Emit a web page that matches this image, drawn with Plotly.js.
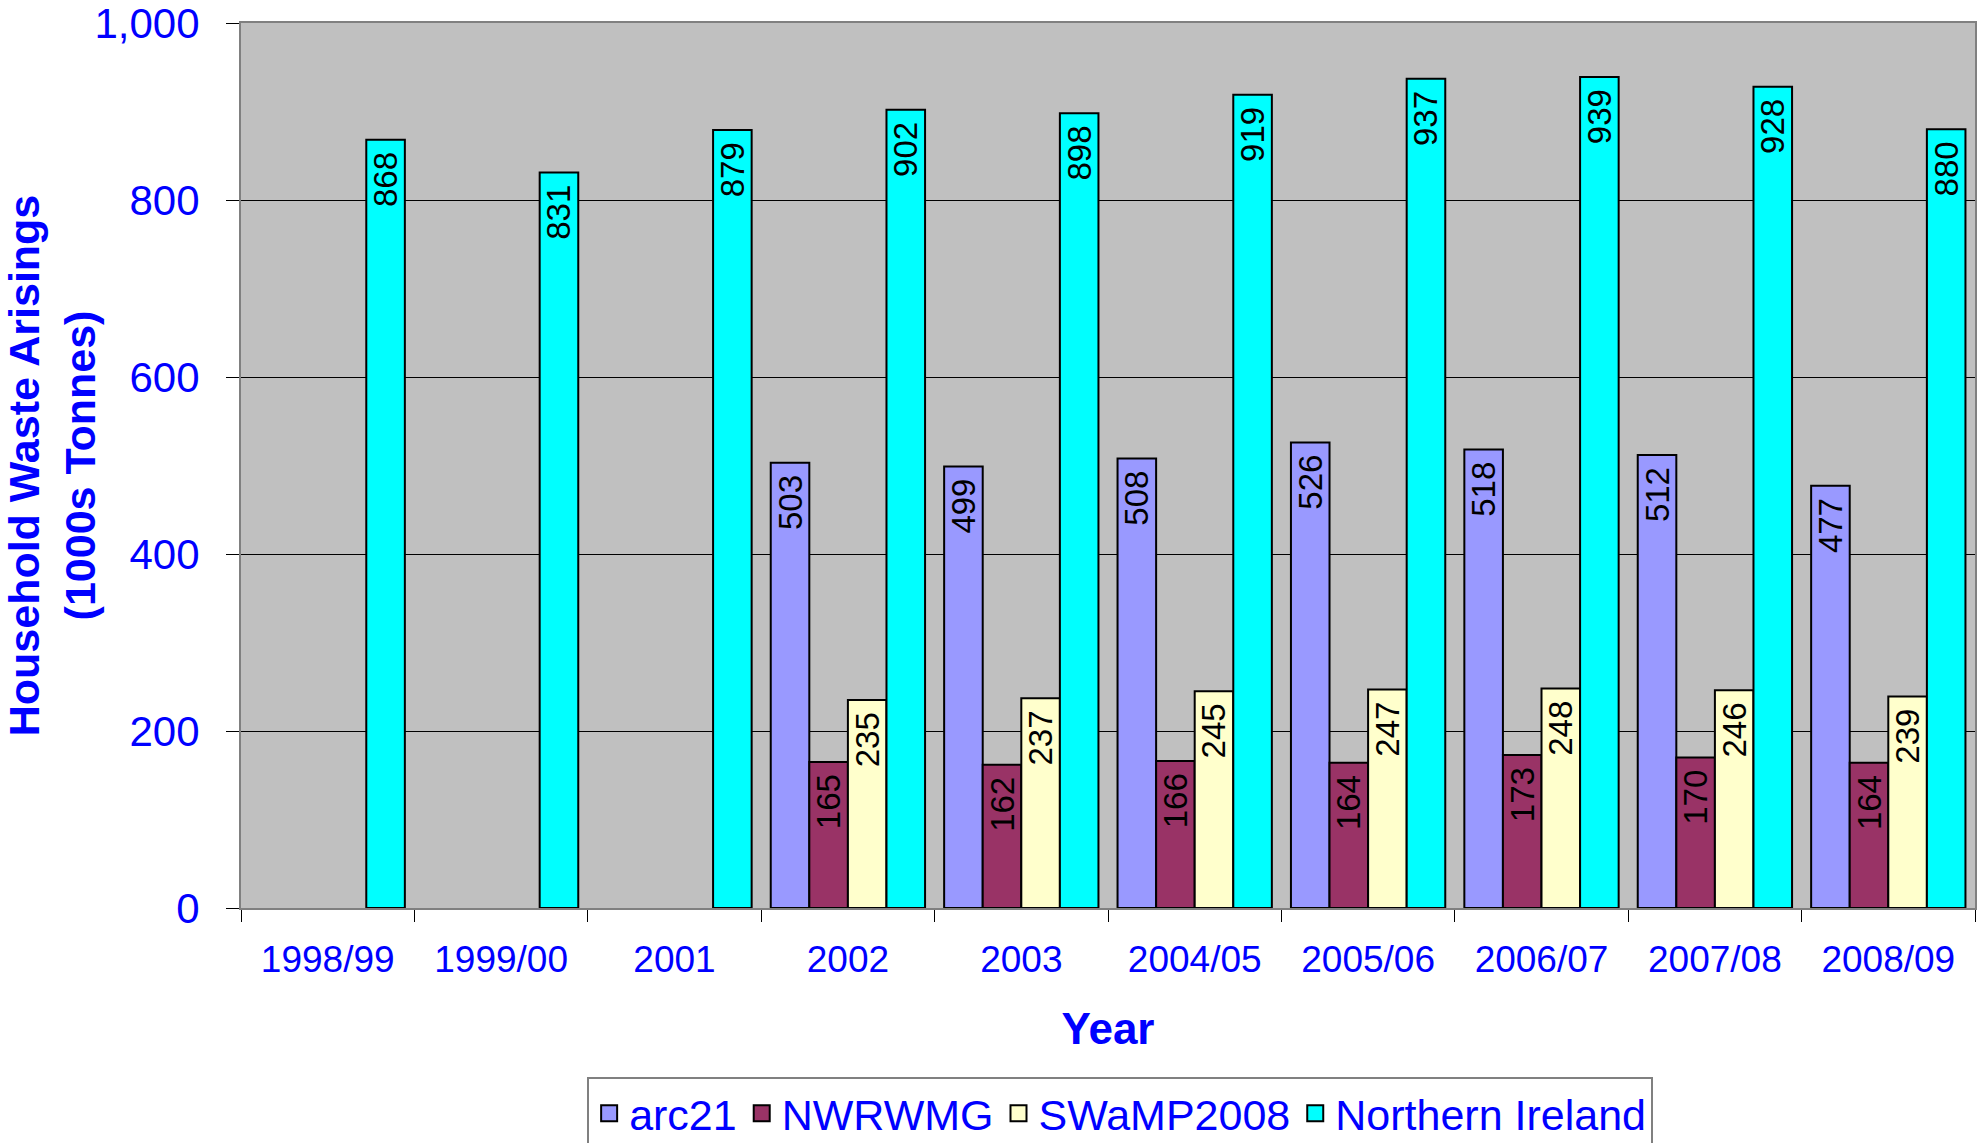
<!DOCTYPE html>
<html>
<head>
<meta charset="utf-8">
<script src="https://cdn.plot.ly/plotly-3.0.1.min.js"></script>
<style>
  html, body { margin: 0; padding: 0; background: #fff; }
  #chart { width: 1984px; height: 1143px; }
</style>
</head>
<body>
<div id="chart"></div>
<script>
var years = ['1998/99', '1999/00', '2001', '2002', '2003', '2004/05', '2005/06', '2006/07', '2007/08', '2008/09'];

var arc21 = [null, null, null, 503, 499, 508, 526, 518, 512, 477];
var nwrwmg = [null, null, null, 165, 162, 166, 164, 173, 170, 164];
var swamp = [null, null, null, 235, 237, 245, 247, 248, 246, 239];
var northernIreland = [868, 831, 879, 902, 898, 919, 937, 939, 928, 880];

var seriesNames = ['arc21', 'NWRWMG', 'SWaMP2008', 'Northern Ireland'];
var seriesColors = ['#9999ff', '#993366', '#ffffcc', '#00ffff'];

var FONT = 'Liberation Sans, Arial, sans-serif';
var BLUE = '#0000ff';

function makeBar(name, values, color) {
  return {
    x: years,
    y: values,
    name: name,
    type: 'bar',
    showlegend: false,
    // trailing nbsp pushes the label a bit down from the bar top
    text: values.map(function (v) { return v === null ? '' : v + '\u00a0'; }),
    textposition: 'inside',
    insidetextanchor: 'end',
    textangle: -90,
    constraintext: 'none',
    textfont: { family: FONT, size: 33, color: '#000' },
    hoverinfo: 'none',
    marker: {
      color: color,
      line: { color: '#000', width: 2 }
    }
  };
}

// legend-only entries so the swatches can be bigger squares
function makeKey(name, color) {
  return {
    x: [null],
    y: [null],
    name: name,
    type: 'scatter',
    mode: 'markers',
    hoverinfo: 'none',
    marker: { symbol: 'square', size: 16, color: color, line: { color: '#000', width: 2 } }
  };
}

var allSeries = [arc21, nwrwmg, swamp, northernIreland];
var data = [];
allSeries.forEach(function (vals, i) {
  data.push(makeBar(seriesNames[i], vals, seriesColors[i]));
});
seriesNames.forEach(function (n, i) {
  data.push(makeKey(n, seriesColors[i]));
});

var layout = {
  width: 1984,
  height: 1143,
  margin: { l: 241, r: 9, t: 23, b: 235 },
  paper_bgcolor: '#fff',
  plot_bgcolor: '#c0c0c0',
  font: { family: FONT, color: BLUE },
  barmode: 'group',
  bargap: 0.11,
  bargroupgap: 0,
  showlegend: true,
  legend: {
    orientation: 'h',
    xref: 'paper',
    x: 0.507,
    xanchor: 'center',
    yref: 'container',
    y: 0.058,
    yanchor: 'top',
    bgcolor: '#fff',
    bordercolor: '#808080',
    borderwidth: 2,
    itemsizing: 'trace',
    font: { family: FONT, size: 43, color: BLUE },
    traceorder: 'normal'
  },
  xaxis: {
    type: 'category',
    tickson: 'boundaries',
    ticks: 'outside',
    ticklen: 12,
    tickcolor: '#000',
    tickwidth: 1,
    ticklabelstandoff: 18,
    showline: true,
    linecolor: '#808080',
    linewidth: 2,
    mirror: true,
    tickfont: { family: FONT, size: 37, color: BLUE },
    title: {
      text: '<b>Year</b>',
      font: { family: FONT, size: 44, color: BLUE },
      standoff: 34
    }
  },
  yaxis: {
    range: [0, 1000],
    dtick: 200,
    tickformat: ',d',
    ticks: 'outside',
    ticklen: 13,
    tickcolor: '#000',
    ticklabelstandoff: 18,
    ticklabeloverflow: 'allow',
    showgrid: true,
    gridcolor: '#000',
    gridwidth: 1,
    zeroline: false,
    showline: true,
    linecolor: '#808080',
    linewidth: 2,
    mirror: true,
    tickfont: { family: FONT, size: 42, color: BLUE },
    title: {
      text: '<b>Household Waste Arisings<br>(1000s Tonnes)</b>',
      font: { family: FONT, size: 43, color: BLUE },
      standoff: 26
    }
  }
};

Plotly.newPlot('chart', data, layout, { displayModeBar: false, staticPlot: true });
</script>
</body>
</html>
